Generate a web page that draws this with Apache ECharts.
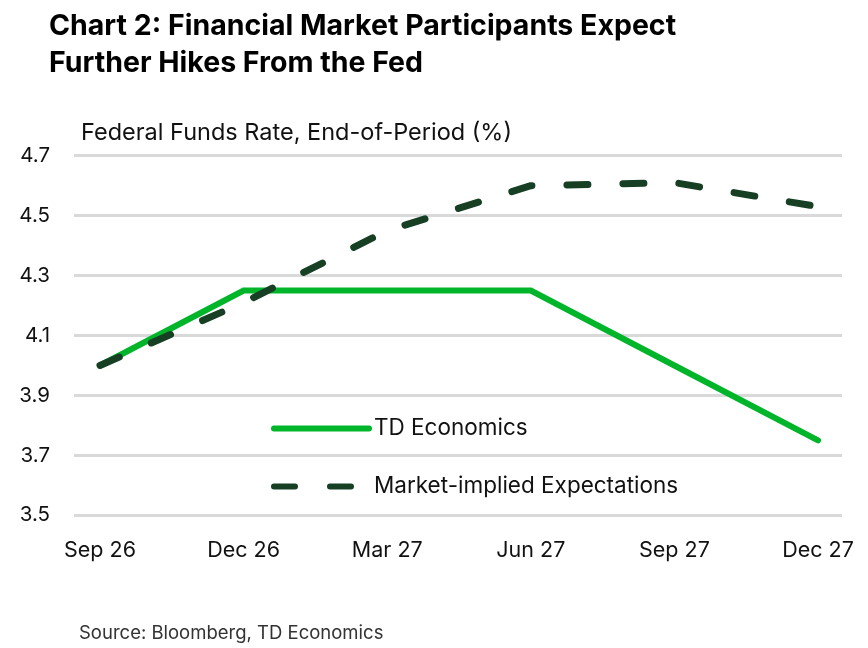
<!DOCTYPE html>
<html>
<head>
<meta charset="utf-8">
<script src="https://cdn.jsdelivr.net/npm/echarts@6/dist/echarts.min.js"></script>
<style>
html,body{margin:0;padding:0;background:#fff;}
#chart{width:868px;height:648px;}
</style>
</head>
<body>
<div id="chart"></div>
<script>
const categories = ['Sep 26', 'Dec 26', 'Mar 27', 'Jun 27', 'Sep 27', 'Dec 27'];
const tdEconomics = [4.00, 4.25, 4.25, 4.25, 4.00, 3.75];
const marketImplied = [4.00, 4.21, 4.45, 4.60, 4.61, 4.53];
const yTicks = [3.5, 3.7, 3.9, 4.1, 4.3, 4.5, 4.7];

const FONT = 'Inter, Roboto, "Noto Sans", sans-serif';
const chart = echarts.init(document.getElementById('chart'), null, {renderer: 'canvas'});

chart.setOption({
  backgroundColor: '#ffffff',
  animation: false,
  title: [{
    text: 'Chart 2: Financial Market Participants Expect\nFurther Hikes From the Fed',
    left: 44, top: 3,
    textStyle: {fontFamily: FONT, fontWeight: 'bold', fontSize: 28.5, lineHeight: 37, color: '#000'}
  }, {
    text: 'Federal Funds Rate, End-of-Period (%)',
    left: 76, top: 116,
    textStyle: {fontFamily: FONT, fontWeight: 'normal', fontSize: 23.5, color: '#111'}
  }, {
    text: 'Source: Bloomberg, TD Economics',
    left: 74, top: 619,
    textStyle: {fontFamily: FONT, fontWeight: 'normal', fontSize: 18.5, color: '#333'}
  }],
  legend: {
    orient: 'vertical',
    left: 266, top: 412,
    itemWidth: 95, itemHeight: 6,
    itemGap: 35,
    lineStyle: {width: 6, cap: 'round'},
    itemStyle: {opacity: 0},
    textStyle: {fontFamily: FONT, fontSize: 22.5, color: '#111', padding: [0, 0, 0, 0]},
    data: [{name: 'TD Economics'}, {name: 'Market-implied Expectations'}]
  },
  grid: {left: 74, right: 26, top: 155.7, bottom: 132.7, containLabel: false},
  xAxis: {
    type: 'value',
    min: -0.181, max: 5.167,
    axisLine: {show: false},
    axisTick: {show: false},
    splitLine: {show: false},
    axisLabel: {
      customValues: categories.map((c, i) => i),
      formatter: v => categories[Math.round(v)],
      fontFamily: FONT, fontSize: 21.5, color: '#111', margin: 24
    }
  },
  yAxis: {
    type: 'value',
    min: 3.5, max: 4.7, interval: 0.2,
    axisLine: {show: false},
    axisTick: {show: false},
    splitLine: {lineStyle: {color: '#d9d9d9', width: 3}},
    axisLabel: {
      customValues: yTicks,
      formatter: v => v.toFixed(1),
      fontFamily: FONT, fontSize: 20.5, color: '#111', margin: 24
    }
  },
  series: [{
    name: 'TD Economics',
    type: 'line',
    data: tdEconomics.map((v, i) => [i, v]),
    symbol: 'none',
    z: 2,
    lineStyle: {color: '#00b52a', width: 6, cap: 'round', join: 'miter'},
    itemStyle: {color: '#00b52a'}
  }, {
    name: 'Market-implied Expectations',
    type: 'line',
    data: marketImplied.map((v, i) => [i, v]),
    symbol: 'none',
    z: 3,
    lineStyle: {color: '#173f24', width: 7, type: [21, 35], cap: 'round'},
    itemStyle: {color: '#173f24'}
  }]
});
</script>
</body>
</html>
